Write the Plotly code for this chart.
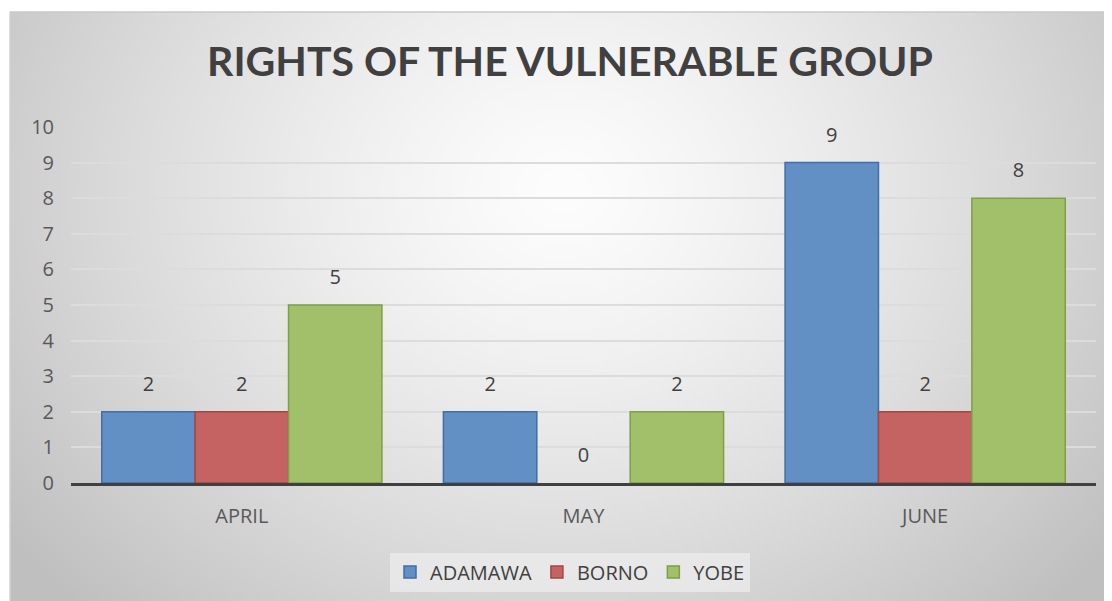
import base64, zlib, struct
import numpy as np
import plotly.graph_objects as go

# ---- data ----
months = ["APRIL", "MAY", "JUNE"]
adamawa = [2, 2, 9]
borno = [2, 0, 2]
yobe = [5, 2, 8]
series_names = ["ADAMAWA", "BORNO", "YOBE"]
y_ticks = list(range(0, 11))

# page body has an 8px margin, so the figure is sized to the remaining visible area
OFF = 8
W, H = 1112 - OFF, 601 - OFF
ML, MR, MT, MB = 71 - OFF, 16, 127 - OFF, 118
PW, PH = W - ML - MR, H - MT - MB

def px_to_paper_x(px):  # px in reference-screen coordinates
    return (px - OFF - ML) / PW

def px_to_paper_y(py):
    return (H - MB - (py - OFF)) / PH

# ---- radial gradient background (PNG data URI) ----
def make_png(arr):
    h, w, _ = arr.shape
    raw = b"".join(b"\x00" + arr[i].tobytes() for i in range(h))
    def chunk(t, d):
        c = struct.pack(">I", len(d)) + t + d
        return c + struct.pack(">I", zlib.crc32(t + d) & 0xffffffff)
    return (b"\x89PNG\r\n\x1a\n" + chunk(b"IHDR", struct.pack(">IIBBBBB", w, h, 8, 2, 0, 0, 0))
            + chunk(b"IDAT", zlib.compress(raw, 9)) + chunk(b"IEND", b""))

gw, gh = 276, 148
yy, xx = np.mgrid[0:gh, 0:gw]
cx, cy = gw * 0.5, gh * 0.3
d = np.sqrt(((xx - cx) / (gw * 0.6)) ** 2 + ((yy - cy) / (gh * 0.95)) ** 2)
d = np.clip(d, 0, 1.05)
val = 253 - 58 * d ** 1.3
img = np.clip(np.stack([val] * 3, axis=-1), 0, 255).astype(np.uint8)
uri = "data:image/png;base64," + base64.b64encode(make_png(img)).decode()

colors = ["#628fc4", "#c46361", "#a2c06a"]
edges = ["#3f6ea8", "#a84542", "#7f9f45"]
values = [adamawa, borno, yobe]

fig = go.Figure()
for i, (name, vals, c, e) in enumerate(zip(series_names, values, colors, edges)):
    fig.add_trace(go.Bar(
        x=months, y=vals, name=name, offsetgroup=str(i),
        marker=dict(color=c, line=dict(color=e, width=[1.5 if v else 0 for v in vals])),
        hoverinfo="x+y+name",
    ))
for i, (name, vals) in enumerate(zip(series_names, values)):
    fig.add_trace(go.Scatter(
        x=months, y=vals, name=name, offsetgroup=str(i), showlegend=False,
        mode="markers+text", text=[str(v) for v in vals], textposition="top center",
        marker=dict(size=24, opacity=0),
        textfont=dict(family="Open Sans", size=20, color="#404040"),
        cliponaxis=False, hoverinfo="skip",
    ))

x0p, x1p = px_to_paper_x(10), px_to_paper_x(1112)
y1p, y0p = px_to_paper_y(12), px_to_paper_y(601)
fig.add_layout_image(dict(source=uri, xref="paper", yref="paper",
                          x=x0p, y=y1p, sizex=x1p - x0p, sizey=y1p - y0p,
                          xanchor="left", yanchor="top", sizing="stretch", layer="below"))
fig.add_shape(type="line", xref="paper", yref="paper", x0=x0p, x1=x1p, y0=y1p, y1=y1p,
              line=dict(color="#c8c8c8", width=1.5), layer="below")
fig.add_shape(type="line", xref="paper", yref="paper", x0=x0p, x1=x0p, y0=y0p, y1=y1p,
              line=dict(color="#d0d0d0", width=1.5), layer="below")

fig.update_layout(
    width=W, height=H,
    margin=dict(l=ML, r=MR, t=MT, b=MB, autoexpand=False),
    paper_bgcolor="white", plot_bgcolor="rgba(0,0,0,0)",
    barmode="group", bargap=0.18, bargroupgap=0,
    scattermode="group", scattergap=0.18,
    title=dict(text="<b>RIGHTS OF THE VULNERABLE GROUP</b>", x=(570 - OFF) / W, xanchor="center",
               y=1 - (62 - OFF) / H, yanchor="middle",
               font=dict(family="Lato", size=41, color="#404040")),
    font=dict(family="Open Sans", color="#595959"),
    legend=dict(orientation="h", x=px_to_paper_x(570), xanchor="center",
                y=px_to_paper_y(572), yanchor="middle",
                bgcolor="rgba(238,238,238,0.7)", font=dict(size=20, color="#404040"),
                itemwidth=30, tracegroupgap=0),
    showlegend=True,
)
fig.update_yaxes(range=[0, 10], tickvals=y_ticks, showgrid=True, gridcolor="#dcdcdc", gridwidth=1.5,
                 zeroline=False, showline=False, tickfont=dict(size=20, color="#595959"),
                 ticks="", ticklabelstandoff=16, fixedrange=True)
fig.update_xaxes(showline=True, linecolor="#404040", linewidth=3, ticks="", layer="above traces",
                 tickfont=dict(size=20, color="#595959"), ticklabelstandoff=13)

fig.write_html("out.html")
